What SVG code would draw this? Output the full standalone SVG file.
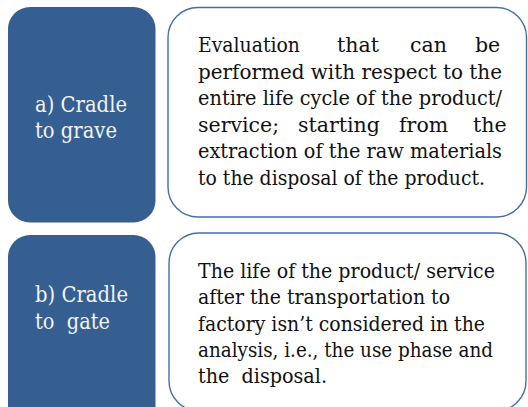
<svg xmlns="http://www.w3.org/2000/svg" width="528" height="407" viewBox="0 0 528 407">
  <style>
    .tag { fill: #365f91; }
    .desc { fill: #ffffff; stroke: #4470a6; stroke-width: 1.4; }
    .tagtext { font-family: "DejaVu Serif", "Liberation Serif", serif; font-size: 22px; fill: #f2f2f2; }
    .body { font-family: "DejaVu Serif", "Liberation Serif", serif; font-size: 20.5px; fill: #111111; }
  </style>
  <rect width="528" height="407" fill="#ffffff"/>

  <!-- a) Cradle to grave -->
  <g id="tag-a">
    <rect class="tag" x="8" y="7" width="147.5" height="215.5" rx="22"/>
    <text class="tagtext" x="35" y="111.5" textLength="92" lengthAdjust="spacingAndGlyphs">a) Cradle</text>
    <text class="tagtext" x="35" y="137.5" textLength="82" lengthAdjust="spacingAndGlyphs">to grave</text>
  </g>

  <g id="desc-a">
    <rect class="desc" x="168" y="7.5" width="358.5" height="209.5" rx="30"/>
    <text class="body" y="52">
      <tspan x="198" textLength="102" lengthAdjust="spacingAndGlyphs">Evaluation</tspan><tspan x="337">that</tspan><tspan x="410">can</tspan><tspan x="475">be</tspan>
    </text>
    <text class="body" x="198" y="78.6" textLength="304" lengthAdjust="spacingAndGlyphs">performed with respect to the</text>
    <text class="body" x="198" y="105.2" textLength="304" lengthAdjust="spacingAndGlyphs">entire life cycle of the product/</text>
    <text class="body" y="131.8">
      <tspan x="198">service;</tspan><tspan x="298">starting</tspan><tspan x="399">from</tspan><tspan x="473">the</tspan>
    </text>
    <text class="body" x="198" y="158.4" textLength="304" lengthAdjust="spacingAndGlyphs">extraction of the raw materials</text>
    <text class="body" x="198" y="185" textLength="287" lengthAdjust="spacingAndGlyphs">to the disposal of the product.</text>
  </g>

  <!-- b) Cradle to gate -->
  <g id="tag-b">
    <rect class="tag" x="8" y="235" width="147.5" height="200" rx="22"/>
    <text class="tagtext" x="35" y="302" textLength="93" lengthAdjust="spacingAndGlyphs">b) Cradle</text>
    <text class="tagtext" x="35" y="328.5" textLength="75" lengthAdjust="spacingAndGlyphs" xml:space="preserve">to  gate</text>
  </g>

  <g id="desc-b">
    <rect class="desc" x="169" y="233" width="357" height="178" rx="30"/>
    <text class="body" x="198" y="278" textLength="297" lengthAdjust="spacingAndGlyphs">The life of the product/ service</text>
    <text class="body" x="198" y="304.3" textLength="252" lengthAdjust="spacingAndGlyphs">after the transportation to</text>
    <text class="body" x="198" y="330.5" textLength="287" lengthAdjust="spacingAndGlyphs">factory isn’t considered in the</text>
    <text class="body" x="198" y="356.5" textLength="295" lengthAdjust="spacingAndGlyphs">analysis, i.e., the use phase and</text>
    <text class="body" x="198" y="382.7" textLength="129" lengthAdjust="spacingAndGlyphs" xml:space="preserve">the  disposal.</text>
  </g>

  <!-- no connectors between the panels -->
  <g id="connectors"/>
</svg>
